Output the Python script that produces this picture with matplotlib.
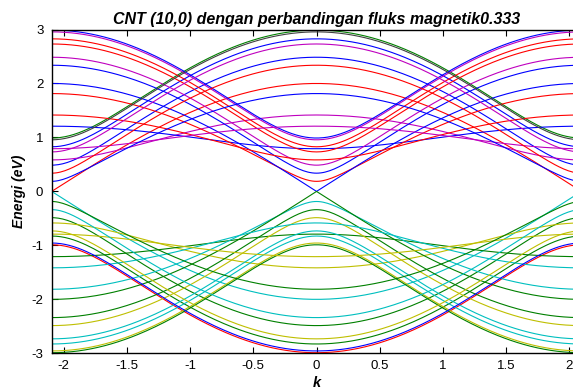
import matplotlib
matplotlib.use("Agg")
import matplotlib.pyplot as plt
import numpy as np

plt.rcParams['font.family'] = ['Liberation Sans', 'DejaVu Sans']

# zigzag nanotube (n,0) threaded by a magnetic flux (in flux quanta)
n_tube = 10
flux = 0.333
gamma = 1.0          # hopping energy, eV
subbands = [0, 1, 2, 3, 4, 5, 6, 7, 8, 9, 10, 11, 12, 13, 14, 15, 16, 17, 18, 19]

# matlab colour letters for the conduction branch of each subband;
# the valence branch takes the next colour in the order
cond_color = ['g', 'b', 'b', 'r', 'm', 'b', 'r', 'b', 'r', 'm',
              'b', 'r', 'm', 'b', 'r', 'm', 'b', 'r', 'm', 'k']

order = ['b', 'g', 'r', 'c', 'm', 'y', 'k']
rgb = {'b': (0, 0, 1), 'g': (0, 0.5, 0), 'r': (1, 0, 0), 'c': (0, 0.75, 0.75),
       'm': (0.75, 0, 0.75), 'y': (0.75, 0.75, 0), 'k': (0.25, 0.25, 0.25)}

k = np.linspace(-2 * np.pi / 3, 2 * np.pi / 3, 241)

fig = plt.figure(figsize=(5.73, 3.92), dpi=100)
ax = fig.add_axes([0.0902, 0.0987, 0.9244, 0.826])

for q, col in zip(subbands, cond_color):
    c = np.cos(np.pi * (q + flux) / n_tube)
    E = gamma * np.sqrt(np.abs(1 + 4 * c * np.cos(1.5 * k) + 4 * c ** 2))
    vcol = order[(order.index(col) + 1) % len(order)]
    ax.plot(k, E, color=rgb[col], lw=0.8)
    ax.plot(k, -E, color=rgb[vcol], lw=0.8)

ax.set_xlim(-2 * np.pi / 3, 2 * np.pi / 3)
ax.set_ylim(-3, 3)
ax.set_xticks([-2, -1.5, -1, -0.5, 0, 0.5, 1, 1.5, 2])
ax.set_xticklabels(['-2', '-1.5', '-1', '-0.5', '0', '0.5', '1', '1.5', '2'])
ax.set_yticks([-3, -2, -1, 0, 1, 2, 3])
ax.set_yticklabels(['-3', '-2', '-1', '0', '1', '2', '3'])
ax.tick_params(direction='in', length=4, width=0.8, labelsize=9.5,
               top=True, right=True)
ax.tick_params(axis='x', pad=5)
ax.tick_params(axis='y', pad=6)
for s in ax.spines.values():
    s.set_linewidth(1.0)

ax.set_title('CNT (10,0) dengan perbandingan fluks magnetik0.333',
             fontsize=11.5, fontweight='bold', fontstyle='italic', pad=4)
ax.set_xlabel('k', fontsize=10.5, fontweight='bold', fontstyle='italic', labelpad=3)
ax.set_ylabel('Energi (eV)', fontsize=10, fontweight='bold', fontstyle='italic',
              labelpad=4)

fig.savefig('out.png', dpi=100)
